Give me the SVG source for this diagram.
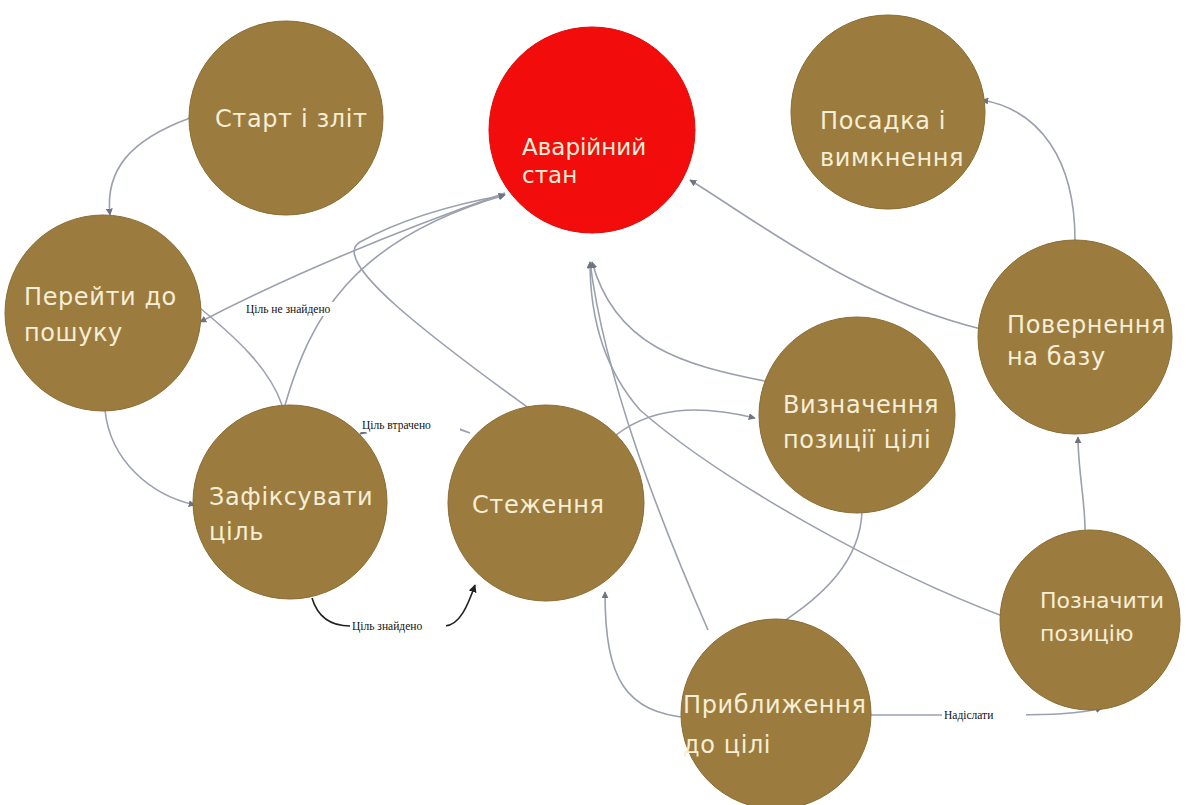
<svg xmlns="http://www.w3.org/2000/svg" width="1187" height="805" viewBox="0 0 1187 805">
  <style>
    .node { fill: #9c7c3e; stroke: #8a6c32; stroke-width: 1; }
    .alarm { fill: #f20c0c; stroke: #e00a0a; stroke-width: 1; }
    .nt { font-family: "DejaVu Sans", "Liberation Sans", sans-serif; font-size: 24px; letter-spacing: 0.6px; fill: #f6eed6; }
    .nt-red { font-size: 23px; letter-spacing: 0; }
    .nt-sm { font-size: 22px; letter-spacing: 0; }
    .edge { fill: none; stroke: #9aa0ad; stroke-width: 1.6; marker-end: url(#arr); }
    .edge-dark { fill: none; stroke: #222; stroke-width: 1.6; marker-end: url(#arrDark); }
    .lbl { font-family: "Liberation Serif", serif; font-size: 11.5px; fill: #111; }
    .lblbg { fill: #ffffff; }
  </style>
  <defs>
    <marker id="arr" viewBox="0 0 10 10" refX="9" refY="5" markerWidth="7" markerHeight="7" orient="auto" markerUnits="userSpaceOnUse">
      <path d="M0,0 L10,5 L0,10 z" fill="#6f7480"/>
    </marker>
    <marker id="arrDark" viewBox="0 0 10 10" refX="9" refY="5" markerWidth="8" markerHeight="8" orient="auto" markerUnits="userSpaceOnUse">
      <path d="M0,0 L10,5 L0,10 z" fill="#222"/>
    </marker>
  </defs>
  <rect width="1187" height="805" fill="#ffffff"/>

  <!-- transitions -->
  <g id="connectors">
    <path class="edge" d="M190,118 C130,140 105,170 110,215"/>
    <path class="edge" d="M105,410 C110,460 150,495 195,505"/>
    <path class="edge" d="M505,193 C400,230 300,270 200,322"/>
    <path class="edge" d="M282,405 C270,370 240,340 190,300"/>
    <path class="edge" d="M285,405 C310,320 350,240 505,195"/>
    <path class="edge" d="M545,420 C420,330 330,260 360,242 C400,220 450,205 505,195"/>
    <path class="edge" d="M470,433 C440,420 385,418 360,434"/>
    <path class="edge-dark" d="M312,598 C318,618 332,626 350,626 L445,626 C460,625 468,605 475,585"/>
    <path class="edge" d="M610,440 C650,405 700,405 755,418"/>
    <path class="edge" d="M862,512 C860,560 825,595 778,625"/>
    <path class="edge" d="M690,718 C625,712 605,680 605,592"/>
    <path class="edge" d="M870,715 L1000,715 C1050,715 1080,714 1102,708"/>
    <path class="edge" d="M1085,530 C1085,500 1078,470 1078,437"/>
    <path class="edge" d="M1075,240 C1075,160 1040,110 982,100"/>
    <path class="edge" d="M985,330 C860,300 770,230 690,180"/>
    <path class="edge" d="M770,382 C680,365 615,345 592,262"/>
    <path class="edge" d="M708,630 C660,520 605,380 590,262"/>
    <path class="edge" d="M1005,617 C880,570 720,480 640,410 C605,370 590,320 590,262"/>
  </g>

  <!-- transition labels -->
  <g id="labels">
    <rect class="lblbg" x="244" y="302" width="118" height="14"/>
    <text class="lbl" x="246" y="313">Ціль не знайдено</text>
    <rect class="lblbg" x="360" y="418" width="100" height="14"/>
    <text class="lbl" x="362" y="429">Ціль втрачено</text>
    <rect class="lblbg" x="350" y="619" width="96" height="14"/>
    <text class="lbl" x="352" y="630">Ціль знайдено</text>
    <rect class="lblbg" x="942" y="708" width="84" height="14"/>
    <text class="lbl" x="944" y="719">Надіслати</text>
  </g>

  <g id="n-start">
    <circle class="node" cx="286" cy="118" r="97"/>
    <text class="nt" x="215" y="127">Старт і зліт</text>
  </g>
  <g id="n-alarm">
    <circle class="alarm" cx="592" cy="130" r="103"/>
    <text class="nt nt-red" x="522" y="155">Аварійний</text>
    <text class="nt nt-red" x="522" y="183">стан</text>
  </g>
  <g id="n-landing">
    <circle class="node" cx="888" cy="112" r="97"/>
    <text class="nt" x="820" y="129">Посадка і</text>
    <text class="nt" x="820" y="166">вимкнення</text>
  </g>
  <g id="n-search">
    <circle class="node" cx="103" cy="313" r="98"/>
    <text class="nt" x="24" y="305">Перейти до</text>
    <text class="nt" x="24" y="341">пошуку</text>
  </g>
  <g id="n-return">
    <circle class="node" cx="1075" cy="337" r="97"/>
    <text class="nt" x="1007" y="333">Повернення</text>
    <text class="nt" x="1007" y="365">на базу</text>
  </g>
  <g id="n-locate">
    <circle class="node" cx="857" cy="415" r="98"/>
    <text class="nt" x="783" y="413">Визначення</text>
    <text class="nt" x="783" y="448">позиції цілі</text>
  </g>
  <g id="n-lock">
    <circle class="node" cx="290" cy="502" r="97"/>
    <text class="nt" x="209" y="505">Зафіксувати</text>
    <text class="nt" x="209" y="540">ціль</text>
  </g>
  <g id="n-track">
    <circle class="node" cx="546" cy="503" r="98"/>
    <text class="nt" x="472" y="513">Стеження</text>
  </g>
  <g id="n-mark">
    <circle class="node" cx="1090" cy="620" r="90"/>
    <text class="nt nt-sm" x="1040" y="608">Позначити</text>
    <text class="nt nt-sm" x="1040" y="641">позицію</text>
  </g>
  <g id="n-approach">
    <circle class="node" cx="776" cy="714" r="95"/>
    <text class="nt" x="683" y="713">Приближення</text>
    <text class="nt" x="683" y="753">до цілі</text>
  </g>
</svg>
